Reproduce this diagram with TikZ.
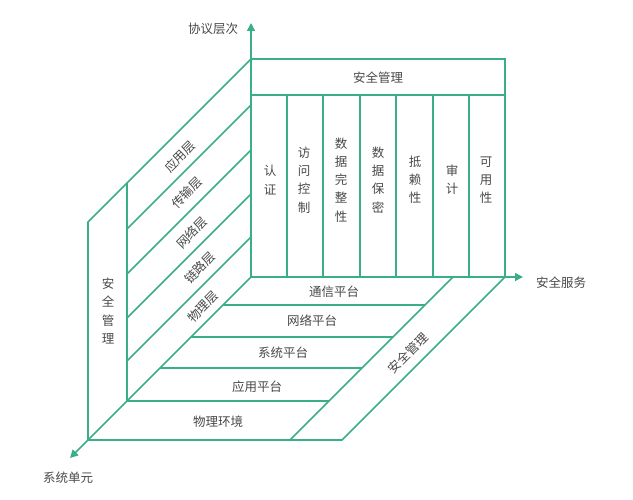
\documentclass[tikz,border=0pt]{standalone}
\usepackage{fontspec}
\setmainfont{Noto Sans CJK SC}
\usetikzlibrary{arrows.meta, positioning}
\definecolor{grn}{RGB}{58,175,133}
\definecolor{txt}{RGB}{72,72,72}
\tikzstyle{wall}=[grn,line width=1.6pt,line join=miter]
\tikzstyle{axis}=[grn,line width=1.6pt,-{Triangle[length=8pt,width=8pt]}]
\tikzstyle{lbl}=[txt,inner sep=0pt,font=\fontsize{12.5}{18.2}\selectfont]
\tikzstyle{col}=[align=center]

\begin{document}
\begin{tikzpicture}[x=1pt,y=-1pt]
\useasboundingbox (0,0) rectangle (633,500);
\coordinate (o) at (251,277);
\coordinate (zt) at (251,23);
\coordinate (xt) at (523,277);
\coordinate (yt) at (70,458);
\draw[axis] (o) -- (zt);
\draw[axis] (o) -- (xt);
\draw[axis] (o) -- (yt);
\draw[wall] (251,59) rectangle (505,277) (251,95) -- (505,95);
\foreach \x in {287,323,360,396,433,469} \draw[wall] (\x,95) -- (\x,277);
\draw[wall] (251,59) -- (88,222) -- (88,440) -- (342,440) -- (505,277) (127,183) -- (127,401) (453,277) -- (290,440);
\foreach \y in {105,150,194,237} \draw[wall] (251,\y) -- ++(-124,124);
\foreach \d in {28,60,91,124} \draw[wall] (251-\d,277+\d) -- (453-\d,277+\d);
\node[lbl] (zl) at (213,29) {协议层次};
\node[lbl] (xl) at (561,283) {安全服务};
\node[lbl] (yl) at (68,478) {系统单元};
\node[lbl] (sm1) at (378,78) {安全管理};
\node[lbl,col] (sm2) at (108,311) {安\\全\\管\\理};
\node[lbl,rotate=45] (sm3) at (408,353) {安全管理};
\foreach \n/\x/\t in {sv1/270/{认\\证}, sv2/304/{访\\问\\控\\制}, sv3/341/{数\\据\\完\\整\\性}, sv4/378/{数\\据\\保\\密}, sv5/415/{抵\\赖\\性}, sv6/452/{审\\计}, sv7/486/{可\\用\\性}}
    \node[lbl,col] (\n) at (\x,180) {\t};
\foreach \n/\x/\y/\t in {ly1/180/157/应用层, ly2/187/193/传输层, ly3/192/233/网络层, ly4/200/268/链路层, ly5/203/307/物理层}
    \node[lbl,rotate=45] (\n) at (\x,\y) {\t};
\foreach \n/\x/\y/\t in {pl1/334/292/通信平台, pl2/312/321/网络平台, pl3/283/353/系统平台, pl4/257/387/应用平台, pl5/218/422/物理环境}
    \node[lbl] (\n) at (\x,\y) {\t};
\end{tikzpicture}
\end{document}
